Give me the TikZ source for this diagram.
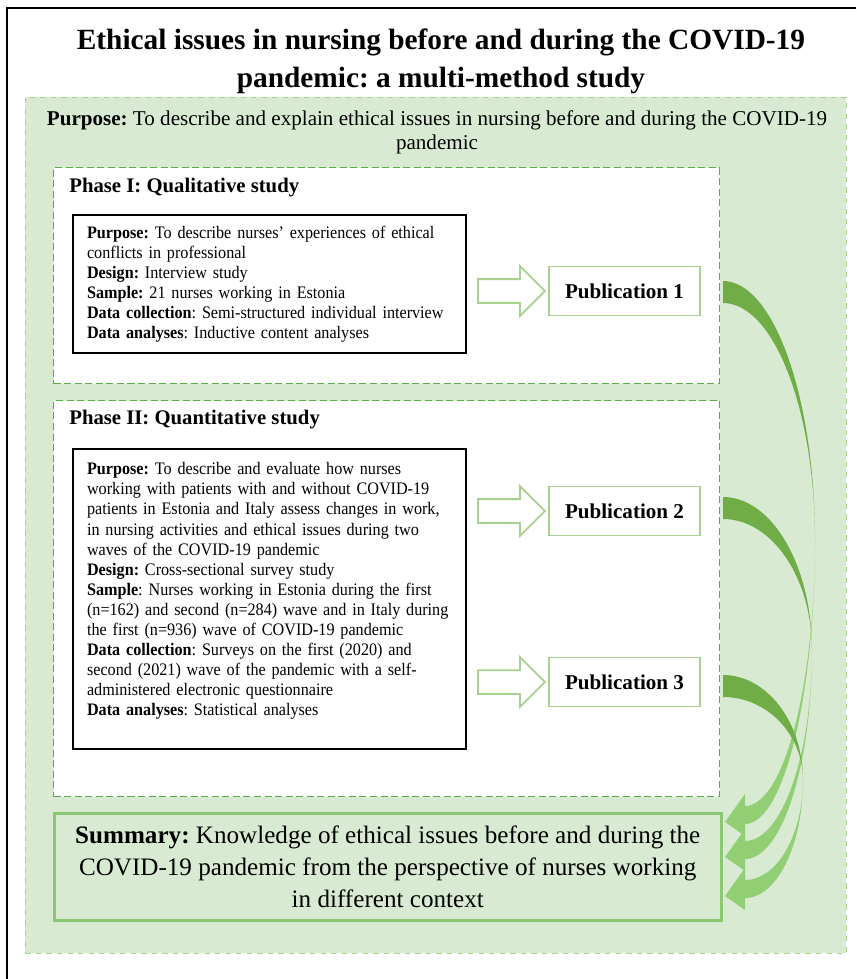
\documentclass[tikz,border=0pt]{standalone}
\usepackage{fontspec}
\setmainfont{Liberation Serif}
\newfontfamily\narrowserif{Liberation Serif}[FakeStretch=0.92,Ligatures=TeX]
\usepackage{tikz}
\usetikzlibrary{positioning,shapes.arrows}
\definecolor{cwash}{HTML}{D9EAD3}
\definecolor{cedge}{HTML}{A9D18E}
\definecolor{cdash}{HTML}{5AAE4A}
\definecolor{csum}{HTML}{8CC873}
\definecolor{cdark}{HTML}{70AD47}
\definecolor{clight}{HTML}{92CF74}
\newcommand{\lbl}[1]{\textbf{#1}}
% ribbon arrow: start y, bulge x, bulge y, tip y
\newcommand{\bendarrow}[4]{%
  \pgfmathsetmacro{\ha}{723+0.55*(#2-723)}
  \pgfmathsetmacro{\va}{#3-0.55*(#3-#1+11)}
  \pgfmathsetmacro{\vb}{#3-0.55*(#3-#1-11)}
  \pgfmathsetmacro{\hb}{745+0.55*(#2-745)}
  \pgfmathsetmacro{\vc}{#3+0.55*(#4+2-#3)}
  \pgfmathsetmacro{\vd}{#3+0.55*(#4-16-#3)}
  \fill[cdark] (723,#1-11) .. controls (\ha,#1-11) and (#2,\va) .. (#2,#3)
    .. controls (#2,\vb) and (\ha,#1+11) .. (723,#1+11) -- cycle;
  \fill[clight] (#2,#3) .. controls (#2,\vc) and (\hb,#4+2) .. (745,#4+2)
    -- (745,#4+14) -- (725,#4) -- (745,#4-28) -- (745,#4-16)
    .. controls (\hb,#4-16) and (#2,\vd) .. (#2,#3) -- cycle;
}
\frenchspacing

\begin{document}
\begin{tikzpicture}[x=0.02cm,y=-0.02cm,
    area/.style={draw=cedge,dashed,fill=cwash,anchor=north west,inner sep=0pt},
    phase/.style={draw=cdash,line width=0.8pt,dash pattern=on 4pt off 2pt,fill=white,
                  anchor=north west,minimum width=13.32cm,inner sep=0pt},
    head/.style={font=\fontsize{11.8}{14}\selectfont\bfseries,anchor=west,inner sep=0pt},
    inbox/.style={draw=black,line width=1.2pt,fill=white,anchor=north west,
                  minimum width=7.86cm,text width=7.3cm,inner xsep=0.28cm,align=left,
                  font=\narrowserif\fontsize{10}{11.4}\selectfont},
    pub/.style={draw=cedge,line width=1pt,fill=white,minimum width=3.02cm,
                minimum height=0.98cm,font=\fontsize{12}{14}\selectfont\bfseries},
    openarr/.style={single arrow,draw=cedge,line width=1pt,fill=white,inner xsep=0pt,
                    inner ysep=0.22cm,minimum height=1.34cm,minimum width=0.96cm,
                    single arrow head extend=0.26cm}]
  \useasboundingbox (0,0) rectangle (856,979);
  \draw[line width=1.1pt] (856,8) -| (7,979);
  \node[area,minimum width=16.42cm,minimum height=17.12cm] (bg) at (25,97) {};
  \node[font=\fontsize{16.7}{21.5}\selectfont\bfseries,align=center] (title) at (441,61)
    {Ethical issues in nursing before and during the COVID-19\\ pandemic: a multi-method study};
  \node[font=\fontsize{12}{13.6}\selectfont,align=center] (aim) at (437,132)
    {\lbl{Purpose:} To describe and explain ethical issues in nursing before and during the COVID-19\\ pandemic};
  % phase I
  \node[phase,minimum height=4.32cm] (ph1) at (53,167) {};
  \node[head] (h1) at (69,188) {Phase I: Qualitative study};
  \node[inbox,minimum height=2.76cm] (in1) at (72,214)
    {\lbl{Purpose:} To describe nurses’ experiences of ethical\\
     conflicts in professional\\
     \lbl{Design:} Interview study\\
     \lbl{Sample:} 21 nurses working in Estonia\\
     \lbl{Data collection}: Semi-structured individual interview\\
     \lbl{Data analyses}: Inductive content analyses};
  \node[pub] (pub1) at (624.5,291) {Publication 1};
  \node[openarr,left=0.04cm of pub1] (go1) {};
  % phase II
  \node[phase,minimum height=7.92cm] (ph2) at (53,400) {};
  \node[head] (h2) at (69,420) {Phase II: Quantitative study};
  \node[inbox,minimum height=6cm] (in2) at (72,448)
    {\lbl{Purpose:} To describe and evaluate how nurses\\
     working with patients with and without COVID-19\\
     patients in Estonia and Italy assess changes in work,\\
     in nursing activities and ethical issues during two\\
     waves of the COVID-19 pandemic\\
     \lbl{Design:} Cross-sectional survey study\\
     \lbl{Sample}: Nurses working in Estonia during the first\\
     \mbox{(n=162) and second (n=284) wave and in Italy during}\\
     the first (n=936) wave of COVID-19 pandemic\\
     \lbl{Data collection}: Surveys on the first (2020) and\\
     second (2021) wave of the pandemic with a self-\\
     administered electronic questionnaire\\
     \lbl{Data analyses}: Statistical analyses\\ \mbox{}};
  \node[pub] (pub2) at (624.5,511) {Publication 2};
  \node[openarr,left=0.04cm of pub2] (go2) {};
  \node[pub] (pub3) at (624.5,682) {Publication 3};
  \node[openarr,left=0.04cm of pub3] (go3) {};
  % summary
  \node[draw=csum,line width=1.5pt,fill=cwash,anchor=north west,minimum width=13.34cm,
        minimum height=2.14cm,align=center,font=\fontsize{14.3}{18.2}\selectfont] (sum) at (53,812)
    {\lbl{Summary:} Knowledge of ethical issues before and during the\\
     COVID-19 pandemic from the perspective of nurses working\\
     in different context};
  \bendarrow{292}{815}{540}{822}
  \bendarrow{508}{812}{650}{857}
  \bendarrow{686}{803}{780}{896}
\end{tikzpicture}
\end{document}
